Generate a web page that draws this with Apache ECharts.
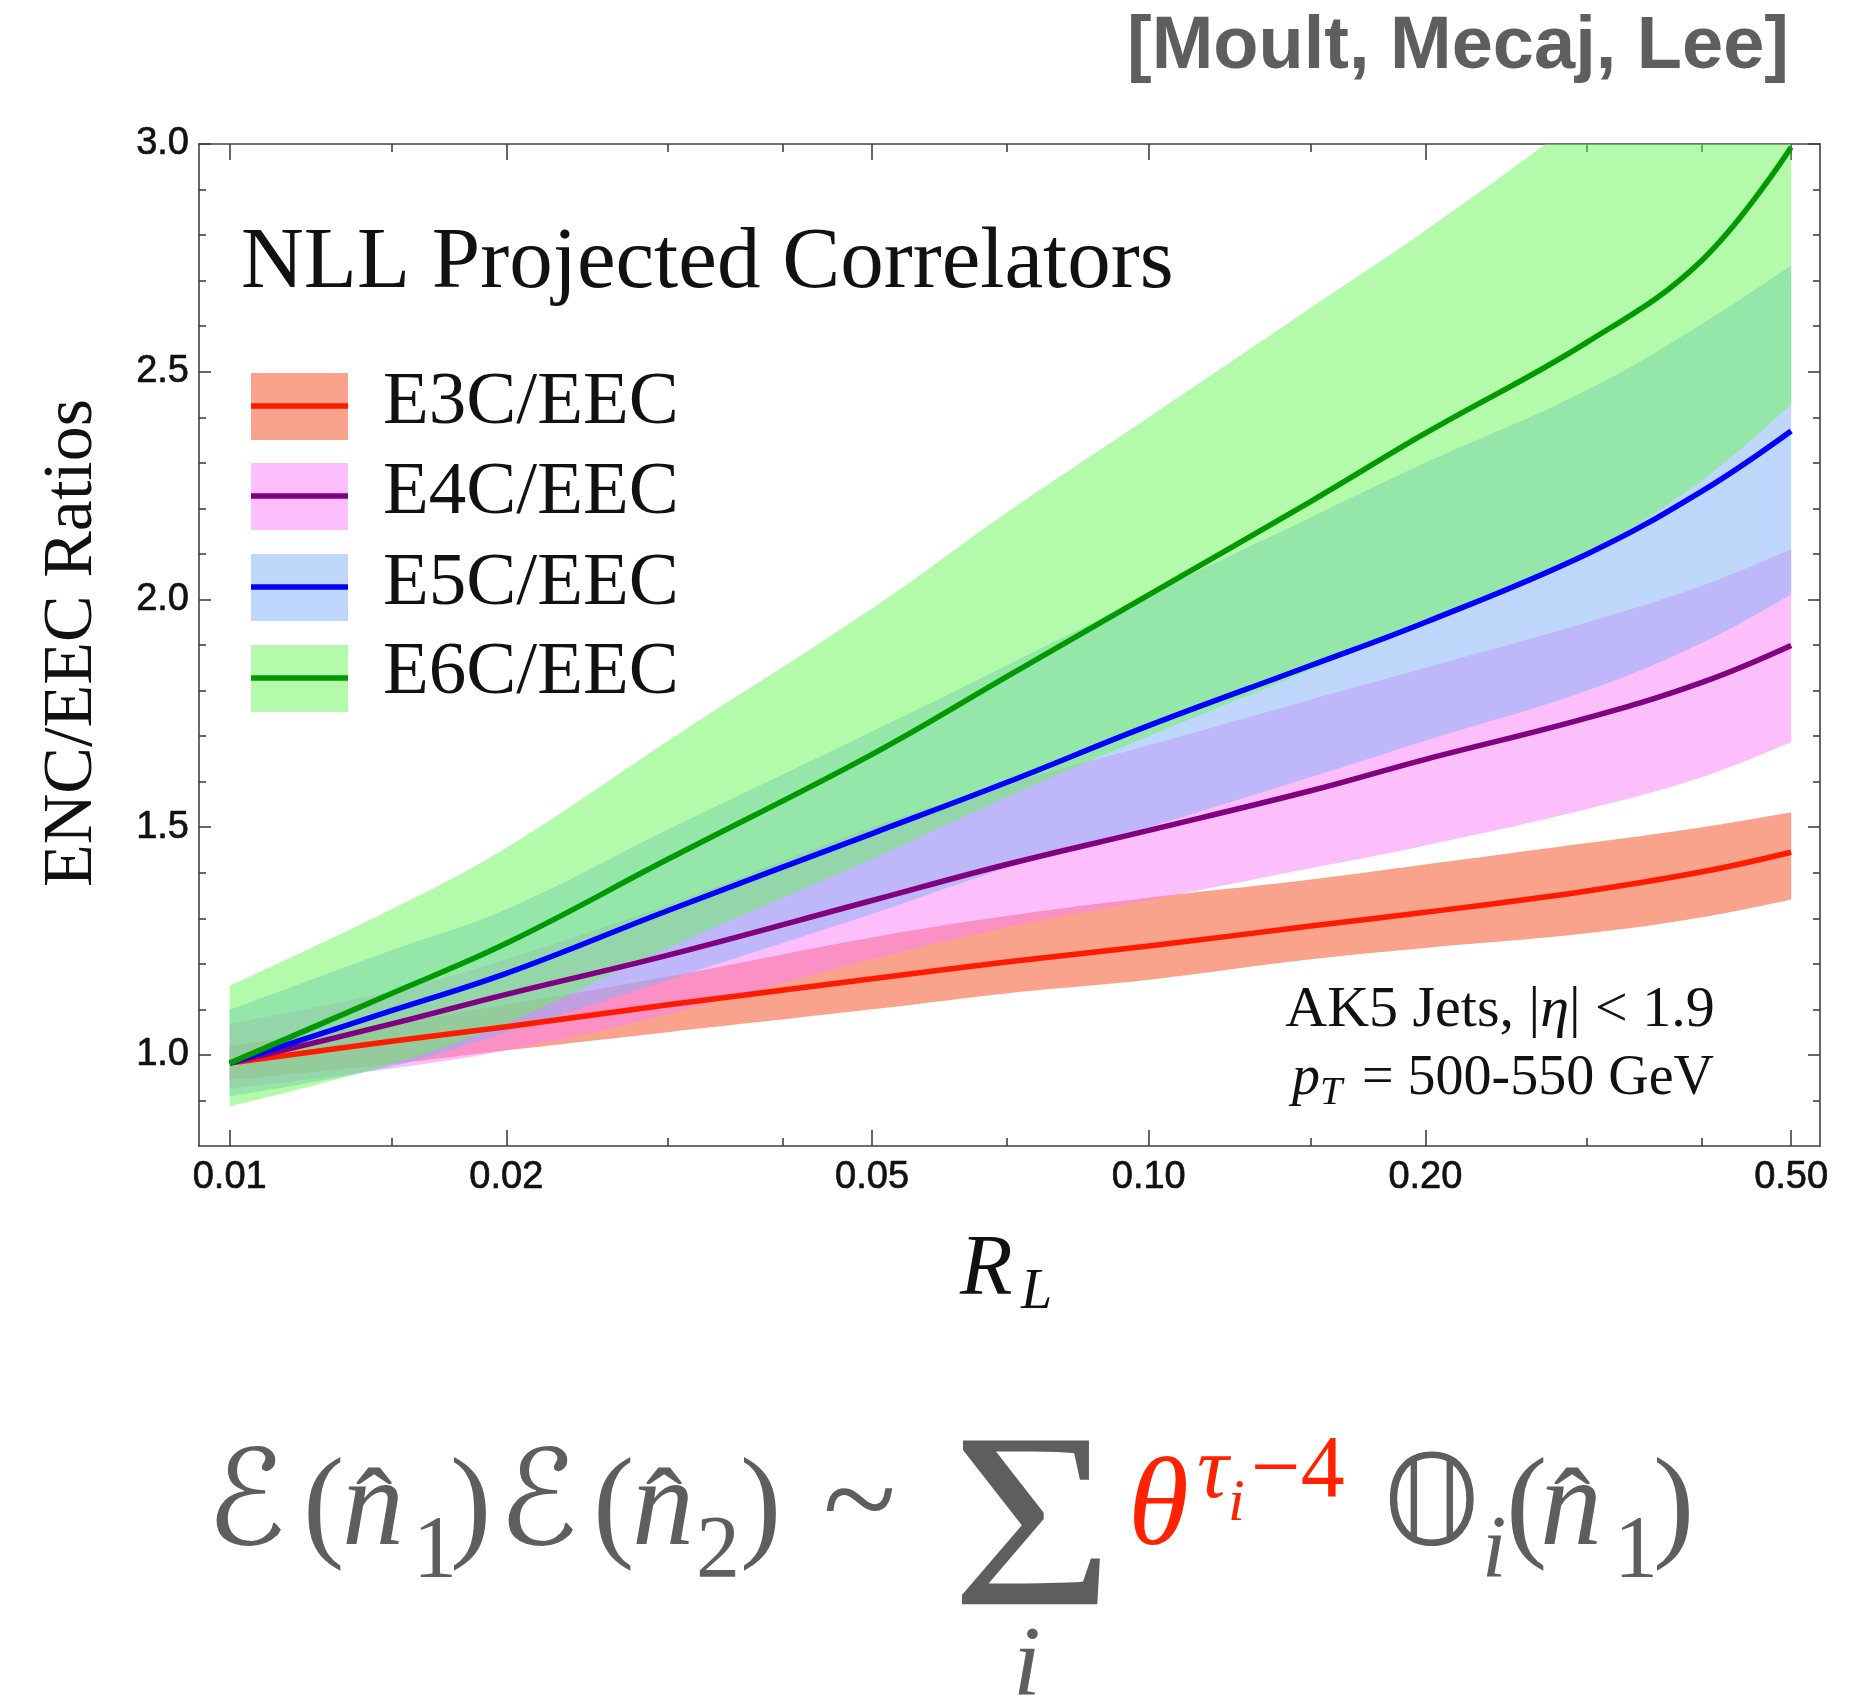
<!DOCTYPE html>
<html><head><meta charset="utf-8">
<script src="https://cdn.jsdelivr.net/npm/echarts@6/dist/echarts.min.js"></script>
<style>html,body{margin:0;padding:0;background:#fff;} #c{width:1855px;height:1702px;}</style>
</head><body><div id="c"></div>
<script>
// ---------------- data ----------------
const RL = [0.01, 0.015, 0.02, 0.03, 0.05, 0.07, 0.1, 0.15, 0.2, 0.3, 0.4, 0.5];

const e3cMid = [0.982, 1.030, 1.062, 1.110, 1.167, 1.204, 1.239, 1.283, 1.313, 1.360, 1.402, 1.445];
const e3cLo  = [0.945, 0.980, 1.010, 1.050, 1.100, 1.135, 1.165, 1.210, 1.235, 1.267, 1.302, 1.341];
const e3cHi  = [1.020, 1.070, 1.110, 1.172, 1.258, 1.305, 1.345, 1.385, 1.418, 1.465, 1.500, 1.533];

const e4cMid = [0.982, 1.068, 1.133, 1.219, 1.339, 1.418, 1.493, 1.580, 1.649, 1.740, 1.818, 1.899];
const e4cLo  = [0.925, 0.970, 1.010, 1.090, 1.210, 1.280, 1.340, 1.410, 1.460, 1.540, 1.610, 1.687];
const e4cHi  = [1.069, 1.140, 1.210, 1.330, 1.500, 1.595, 1.680, 1.780, 1.850, 1.950, 2.030, 2.110];

const e5cMid = [0.982, 1.097, 1.179, 1.317, 1.486, 1.598, 1.723, 1.855, 1.950, 2.100, 2.238, 2.370];
const e5cLo  = [0.909, 0.975, 1.050, 1.165, 1.310, 1.410, 1.500, 1.610, 1.690, 1.800, 1.905, 2.011];
const e5cHi  = [1.099, 1.230, 1.320, 1.495, 1.710, 1.855, 2.010, 2.180, 2.300, 2.460, 2.605, 2.733];

const e6cMid = [0.982, 1.135, 1.245, 1.430, 1.660, 1.830, 2.010, 2.215, 2.365, 2.565, 2.745, 2.993];
const e6cLo  = [0.887, 0.980, 1.070, 1.235, 1.430, 1.565, 1.700, 1.845, 1.955, 2.105, 2.262, 2.429];
const e6cHi  = [1.152, 1.320, 1.455, 1.690, 1.980, 2.190, 2.400, 2.640, 2.810, 3.070, 3.280, 3.460];

const seriesNames = ['E3C/EEC', 'E4C/EEC', 'E5C/EEC', 'E6C/EEC'];

const xMajorTicks = [0.01, 0.02, 0.05, 0.1, 0.2, 0.5];
const xMinorTicks = [0.015, 0.03, 0.04, 0.07, 0.15, 0.3, 0.4];
const yMajorTicks = [1.0, 1.5, 2.0, 2.5, 3.0];
const yMinorTicks = [0.9, 1.1, 1.2, 1.3, 1.4, 1.6, 1.7, 1.8, 1.9, 2.1, 2.2, 2.3, 2.4, 2.6, 2.7, 2.8, 2.9];

// ---------------- styles ----------------
const X_MIN = 0.00926, X_MAX = 0.5375, Y_MIN = 0.8, Y_MAX = 3.0;
const AX = '#404040';
const bandColors = ['rgba(243,71,25,0.5)', 'rgba(251,125,249,0.5)', 'rgba(127,175,247,0.5)', 'rgba(105,245,87,0.5)'];
const lineColors = ['#ff1a00', '#800080', '#0000ff', '#009900'];
const SMOOTH = 0.4;

const mids = [e3cMid, e4cMid, e5cMid, e6cMid];
const los = [e3cLo, e4cLo, e5cLo, e6cLo];
const his = [e3cHi, e4cHi, e5cHi, e6cHi];

// band = lower edge + stacked width; value dimension first so the stack acts on y
const series = [];
seriesNames.forEach((nm, k) => {
  series.push({
    type: 'line', name: nm + ' lo', stack: 'band' + k, symbol: 'none', smooth: SMOOTH, silent: true,
    encode: { x: 1, y: 0 },
    data: RL.map((x, i) => [los[k][i], x]), lineStyle: { opacity: 0, width: 0 }
  });
  series.push({
    type: 'line', name: nm + ' band', stack: 'band' + k, symbol: 'none', smooth: SMOOTH, silent: true,
    encode: { x: 1, y: 0 },
    data: RL.map((x, i) => [his[k][i] - los[k][i], x]), lineStyle: { opacity: 0, width: 0 },
    areaStyle: { color: bandColors[k], opacity: 1 }
  });
});
seriesNames.forEach((nm, k) => {
  series.push({
    type: 'line', name: nm, symbol: 'none', smooth: SMOOTH, silent: true,
    data: RL.map((x, i) => [x, mids[k][i]]), lineStyle: { color: lineColors[k], width: 5.5 }
  });
});

const labelStyle = { fontSize: 38, color: '#111', margin: 13, fontFamily: 'Liberation Sans',
  textBorderColor: '#111', textBorderWidth: 0.7 };
function xAx(pos, ticks, len, labels, line) {
  return {
    type: 'log', logBase: 10, min: X_MIN, max: X_MAX, position: pos,
    axisLine: { show: !!line, onZero: false, lineStyle: { color: AX, width: 1.6 } },
    axisTick: { show: true, inside: true, length: len, customValues: ticks, lineStyle: { color: AX, width: 1.6 } },
    axisLabel: labels ? Object.assign({ show: true, customValues: labels, formatter: v => Number(v).toFixed(2) }, labelStyle) : { show: false },
    splitLine: { show: false }, minorTick: { show: false }, minorSplitLine: { show: false }
  };
}
function yAx(pos, ticks, len, labels, line) {
  return {
    type: 'value', min: Y_MIN, max: Y_MAX, position: pos,
    axisLine: { show: !!line, onZero: false, lineStyle: { color: AX, width: 1.6 } },
    axisTick: { show: true, inside: true, length: len, customValues: ticks, lineStyle: { color: AX, width: 1.6 } },
    axisLabel: labels ? Object.assign({ show: true, customValues: labels, formatter: v => Number(v).toFixed(1) }, Object.assign({}, labelStyle, { margin: 10 })) : { show: false },
    splitLine: { show: false }
  };
}

// ---------------- text helpers ----------------
const G = '#5e5e5e', RED = '#ff2200';
const MID = 0.27; // baseline offset of 'middle' alignment, in em
function T(x, base, text, size, o) {
  o = o || {};
  return {
    type: 'text', x: x, y: base - MID * size, silent: true,
    rotation: o.rot || 0, scaleX: o.sx || 1, scaleY: o.sy || 1,
    style: {
      text: text, fontSize: size, fontFamily: o.ff || 'Liberation Serif',
      fontStyle: o.it ? 'italic' : 'normal', fontWeight: o.fw || 'normal',
      fill: o.c || '#111', align: o.al || 'left', verticalAlign: 'middle', rich: o.rich
    }
  };
}

const graphics = [];
graphics.push(T(1789, 68, '[Moult, Mecaj, Lee]', 74, { ff: 'Liberation Sans', fw: 'bold', c: '#5e5e5e', al: 'right' }));
graphics.push(T(241, 288, 'NLL Projected Correlators', 87));
const legBase = [424, 514, 605, 694];
const legTop = [373, 463, 554, 645];
seriesNames.forEach((nm, k) => {
  graphics.push({ type: 'rect', silent: true, shape: { x: 251, y: legTop[k], width: 97, height: 67 }, style: { fill: bandColors[k] } });
  graphics.push({ type: 'line', silent: true, shape: { x1: 251, y1: legTop[k] + 33, x2: 348, y2: legTop[k] + 33 }, style: { stroke: lineColors[k], lineWidth: 5.5 } });
  graphics.push(T(383, legBase[k], nm, 75));
});
graphics.push(T(1500, 1026, 'AK5 Jets, |{it|η}| < 1.9', 58, { al: 'center', rich: { it: { fontStyle: 'italic', fontSize: 58, fontFamily: 'Liberation Serif' } } }));
graphics.push(T(1292, 1094, 'p', 56, { it: true }));
graphics.push(T(1320, 1104, 'T', 40, { it: true }));
graphics.push(T(1362, 1094, '= 500-550 GeV', 56));
graphics.push(T(960, 1295, 'R', 86, { it: true }));
graphics.push(T(1021, 1308, 'L', 56, { it: true }));
graphics.push({
  type: 'text', x: 73, y: 643, rotation: Math.PI / 2, silent: true,
  style: { text: 'ENC/EEC Ratios', fontSize: 70, fontFamily: 'Liberation Serif', fill: '#111', align: 'center', verticalAlign: 'middle' }
});
// formula
const F = 124, S = 88, B = 1545, SB = 1577;
const scr = "'DejaVu Serif','DejaVu Sans'";
graphics.push(T(206, B, 'ℰ', 132, { ff: scr, c: G }));
graphics.push(T(303, B, '(', F, { c: G }));
graphics.push(T(342, B, 'n', F, { it: true, c: G }));
graphics.push(T(374, B, 'ˆ', 110, { c: G, al: 'center' }));
graphics.push(T(413, SB, '1', S, { c: G }));
graphics.push(T(450, B, ')', F, { c: G }));
graphics.push(T(498, B, 'ℰ', 132, { ff: scr, c: G }));
graphics.push(T(593, B, '(', F, { c: G }));
graphics.push(T(632, B, 'n', F, { it: true, c: G }));
graphics.push(T(664, B, 'ˆ', 110, { c: G, al: 'center' }));
graphics.push(T(696, SB, '2', S, { c: G }));
graphics.push(T(740, B, ')', F, { c: G }));
graphics.push(T(823, B, '~', 135, { c: G }));
graphics.push(T(951, 1606, 'Σ', 250, { c: G, sx: 1.12 }));
graphics.push(T(1027, 1695, 'i', 100, { it: true, c: G, al: 'center' }));
graphics.push(T(1128, B, 'θ', F, { it: true, c: RED }));
graphics.push(T(1197, 1498, 'τ', S, { it: true, c: RED }));
graphics.push(T(1228, 1520, 'i', 60, { it: true, c: RED }));
graphics.push(T(1251, 1497, '−4', S, { c: RED }));
graphics.push(T(1383, B, '𝕆', F, { ff: "'DejaVu Sans'", c: G }));
graphics.push(T(1482, SB, 'i', S, { it: true, c: G }));
graphics.push(T(1506, B, '(', F, { c: G }));
graphics.push(T(1540, B, 'n', F, { it: true, c: G }));
graphics.push(T(1572, B, 'ˆ', 110, { c: G, al: 'center' }));
graphics.push(T(1614, SB, '1', S, { c: G }));
graphics.push(T(1653, B, ')', F, { c: G }));

const chart = echarts.init(document.getElementById('c'), null, { renderer: 'canvas' });
chart.setOption({
  animation: false,
  backgroundColor: '#ffffff',
  grid: { left: 199, top: 144, width: 1621, height: 1002, containLabel: false, outerBoundsMode: 'none' },
  xAxis: [
    xAx('bottom', xMajorTicks, 16, xMajorTicks, true),
    xAx('bottom', xMinorTicks, 8, null, false),
    xAx('top', xMajorTicks, 16, null, true),
    xAx('top', xMinorTicks, 8, null, false)
  ],
  yAxis: [
    yAx('left', yMajorTicks, 12, yMajorTicks, true),
    yAx('left', yMinorTicks, 7, null, false),
    yAx('right', yMajorTicks, 12, null, true),
    yAx('right', yMinorTicks, 7, null, false)
  ],
  series: series,
  graphic: graphics
});
</script></body></html>
